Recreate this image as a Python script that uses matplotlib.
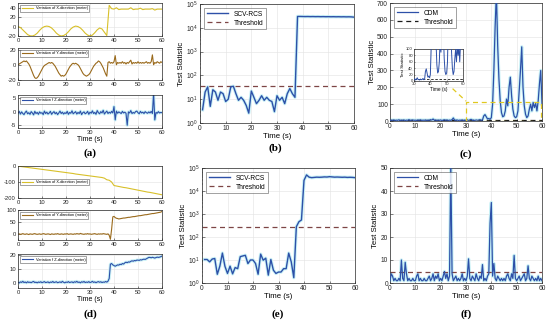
import numpy as np
import matplotlib

matplotlib.use("Agg")
import matplotlib.pyplot as plt
from matplotlib.patches import Rectangle

plt.rcParams.update({"font.family": ["Liberation Sans", "DejaVu Sans"],
                     "axes.linewidth": 0.5, "mathtext.default": "regular",
                     "axes.unicode_minus": False})

W, H = 550, 322

# ---------------- data ----------------
# (a) attack on a sinusoidal path, 1 s / 0.5 s samples
a_x = [0, -2, -7, -12, -17, -19.5, -20, -18, -14, -8,
       -3, 0, 1, 0, -3, -8, -14, -18, -20, -19,
       -16, -11, -5, -1, 1, 0, -3, -8, -14, -18,
       -20, -18, -13, -7, -3, -5, -12, -19, 45, 38,
       37, 40, 36, 37, 37, 37, 37, 40, 36, 37,
       37, 39, 36, 37, 37, 37, 38, 35, 37, 37, 37]
a_y = [0, 1, 2, 3, 4, 5, 4, 5, 3, 1,
       -2, -6, -10, -14, -17, -18, -17, -15, -12, -9,
       -6, -3, -1, 0, 1, 2, 3, 2, 3, 2,
       0, -2, -5, -8, -11, -13, -15, -14, -15, -14,
       -12, -9, -6, -3, -1, 1, 2, 1, 2, 1,
       0, -2, -5, -8, -11, -13, -14, -15, -14, -13,
       -11, -8, -5, -2, 0, 2, 3, 5, 4, 2,
       -1, -4, -8, -12, -15, 3, 4, 2, 3, 2,
       4, 12, 0, 3, 2, 3, 2, 4, 2, 3,
       1, 3, 2, 4, 6, 1, 3, 2, 3, 2,
       4, 2, 3, 2, 3, 2, 3, 4, 2, 3,
       2, 4, 13, 0, 3, 2, 4, 3, 2, 4, 3]
a_z = [-0.5, 0.2, -0.8, 0.0, -0.6, -1.0, -0.2, 0.3, -0.7, -0.3,
       -0.9, 0.1, -0.4, -1.1, 0.2, -0.6, -0.2, -0.9, 0.0, -0.5,
       -0.3, -1.0, 0.3, -0.6, -0.1, -0.8, -0.4, 0.2, -0.9, -0.3,
       0.1, -0.7, -0.2, -1.0, -0.4, 0.3, -0.6, -0.1, -0.8, -0.3,
       -0.6, 0.2, -0.9, -0.2, -0.5, 0.4, -0.7, -0.3, 0.1, -0.8,
       -0.2, -0.6, 0.3, -1.0, -0.3, 0.0, -0.7, -0.4, 0.2, -0.9,
       -0.1, -0.5, 0.4, -0.6, -0.2, -0.9, 0.5, -0.3, -0.7, 0.1,
       -0.4, 0.6, -0.8, -0.2, 0.3, -0.6, -0.1, -0.5, 0.2, -0.4,
       2.0, -3.0, 0.3, -0.5, 0.0, -0.3, -0.6, 0.2, -0.4, -0.1,
       -0.5, -5.0, 0.0, -0.4, 0.5, -0.6, -0.2, -0.5, 0.1, 0.3,
       -0.3, -0.7, 0.2, -0.4, -0.1, -0.6, 0.1, -0.3, -0.5, 0.0,
       -0.4, 0.2, -0.6, 7.0, -3.0, -0.2, -0.5, 0.1, -0.4, -0.2, -0.3]

# (b) SCV-RCS statistic, t = 1..60 s
b_stat = [3.6, 20, 33, 5, 25, 20, 9, 20, 17, 8,
          10, 33, 35, 17, 9, 12, 9, 5.5, 2.6, 22,
          12, 6.5, 9, 14, 9, 12, 9, 8, 3, 14,
          9, 12, 6.5, 17, 28, 17, 12, 30000, 30000, 29800,
          29600, 29800, 29500, 29700, 29400, 29600, 29300, 29500, 29200, 29400,
          29100, 29300, 29000, 29200, 28900, 29100, 28800, 29000, 28700, 28000]
b_thr = 36

# (c) CDM statistic, 0.5 s samples
c_stat = [3, 5, 4, 6, 3, 5, 4, 7, 3, 5,
          4, 6, 3, 5, 4, 8, 3, 5, 6, 4,
          5, 3, 6, 4, 7, 3, 5, 4, 6, 3,
          5, 4, 8, 5, 12, 4, 6, 3, 5, 4,
          6, 3, 5, 7, 4, 6, 3, 5, 4, 8,
          18, 5, 4, 6, 3, 5, 4, 6, 3, 5,
          4, 7, 3, 6, 10, 4, 5, 3, 6, 4,
          5, 8, 4, 6, 30, 38, 25, 12, 15, 10,
          20, 100, 300, 560, 760, 450, 250, 120, 50, 25,
          30, 60, 130, 90, 200, 260, 150, 70, 30, 20,
          25, 60, 180, 300, 440, 200, 90, 40, 20, 30,
          70, 100, 60, 110, 80, 105, 60, 120, 220, 300, 100]
c_thr = 5

# (d) attack on a linear path
d_x = [-1, -3, -5, -7, -9, -11, -13, -15, -17, -19,
       -21, -23, -25, -27, -29, -31, -33, -35, -37, -39,
       -41, -43, -45, -47, -50, -52, -54, -56, -58, -60,
       -62, -64, -66, -68, -70, -72, -76, -86, -89, -100,
       -122, -125, -128, -131, -134, -136, -139, -142, -145, -148,
       -151, -154, -157, -160, -163, -165, -168, -171, -174, -177, -180]
d_y = [0, 1, -1, 0, 2, 0, -1, 1, 0, -2,
       1, 0, -1, 1, 2, 0, -1, 0, 1, -1,
       0, 2, 1, -1, 0, 1, 0, -2, 1, 0,
       -1, 1, 0, 2, 0, -1, 1, 0, -1, 1,
       0, 2, -1, 0, 1, 0, -1, 1, 0, 2,
       1, 0, 3, 1, 0, -1, 1, 0, 2, 0,
       1, -1, 0, 1, 2, 0, -1, 1, 0, 1,
       0, 2, 1, 0, -1, 1, -5, -22, 20, 73,
       75, 70, 67, 66, 64, 65, 66, 67, 68, 68,
       69, 70, 71, 71, 72, 73, 74, 74, 75, 76,
       77, 78, 78, 79, 80, 81, 82, 82, 83, 84,
       85, 86, 87, 87, 88, 89, 90, 91, 92, 93, 96]
d_z = [0.2, -0.3, 0.5, 0.1, 0.9, 0.0, 0.4, -0.2, 0.6, 0.1,
       0.3, -0.1, 0.5, 0.8, 0.0, 0.3, -0.2, 0.4, 0.1, 0.6,
       -0.1, 0.3, 0.7, 0.0, 0.2, 0.5, -0.2, 0.4, 0.1, 0.8,
       0.0, 0.3, 0.6, -0.1, 0.2, 0.5, 0.0, 0.9, 0.2, -0.2,
       0.4, 0.1, 0.7, 0.0, 0.3, 0.5, -0.1, 0.6, 0.2, 0.9,
       0.1, 0.4, -0.2, 0.6, 0.2, 0.8, 0.0, 0.4, 0.1, 0.7,
       0.0, 0.3, 0.9, 0.1, 0.5, -0.1, 0.4, 0.7, 0.2, 0.6,
       0.0, 0.4, 0.2, 0.8, 0.3, 1.0, 3.0, 13.5, 14.0, 13.0,
       12.5, 12.0, 12.5, 13.0, 12.8, 13.5, 13.2, 14.0, 13.6, 14.5,
       15.0, 14.6, 15.2, 15.0, 15.6, 16.0, 15.7, 16.2, 16.0, 16.5,
       16.5, 16.3, 16.8, 16.6, 17.0, 17.2, 17.0, 17.5, 18.0, 18.5,
       18.5, 18.2, 18.6, 18.3, 18.0, 18.4, 18.7, 18.5, 18.7, 19.0, 19.5]

# (e) SCV-RCS statistic, t = 1..60 s
e_stat = [10.5, 10.5, 8.3, 11, 11.6, 2.4, 5.4, 20, 5.3, 2.6,
          5.4, 2.5, 4.7, 4.2, 14, 15, 16, 7, 10, 10,
          7, 2.4, 18, 9.8, 12, 2.2, 10.5, 3.6, 2.6, 3,
          3, 4.2, 4.2, 20, 8.3, 1.7, 280, 460, 550, 29000,
          50000, 40000, 38000, 39000, 40000, 39500, 40000, 41000, 40500, 42000,
          41000, 40000, 40500, 40000, 39500, 40000, 39000, 39500, 39000, 38000]
e_thr = 280

# (f) CDM statistic, 0.5 s samples
f_stat = [1, 4, 3, 1, 2, 1, 1, 2, 1, 10,
          2, 1, 9, 4, 1, 2, 1, 1, 2, 1,
          1, 3, 4, 1, 2, 1, 1, 2, 1, 1,
          2, 3, 1, 2, 4, 1, 3, 2, 4, 1,
          2, 1, 3, 5, 2, 4, 1, 3, 52, 4,
          1, 2, 3, 1, 2, 1, 2, 4, 1, 2,
          1, 3, 10.5, 2, 1, 3, 2, 1, 4, 2,
          1, 3, 2, 8, 1, 2, 1, 3, 4, 26,
          35, 3, 8.5, 2, 1, 3, 2, 1, 2, 1,
          2, 1, 3, 4, 2, 1, 4, 2, 12, 2,
          1, 2, 3, 1, 2, 3, 4, 1, 2, 7.5,
          2, 1, 3, 2, 1, 2, 1, 3, 1, 2, 1]
f_thr = 5

t1 = np.arange(61)
t_half = np.arange(121) * 0.5
t_scv = np.arange(1, 61)

BLUE = "#2d50a8"
HALO = "#c9f1f6"
YELLOW = "#d8c02a"
BROWN = "#9a6a1c"
THR = "#7d4545"


def rect(l, t, r, b):
    return [l / W, 1 - b / H, (r - l) / W, (b - t) / H]


def style(ax, fs):
    ax.tick_params(direction="in", length=1.8, width=0.4, labelsize=fs, pad=1.5,
                   colors="#262626")
    ax.tick_params(which="minor", direction="in", length=1.0, width=0.3)
    ax.grid(True, color="#e2e2e2", lw=0.4)
    ax.set_axisbelow(True)
    for s in ax.spines.values():
        s.set_linewidth(0.5)
        s.set_color("#262626")


def frame(leg):
    leg.get_frame().set_linewidth(0.4)
    leg.get_frame().set_edgecolor("#333333")


fig = plt.figure(figsize=(W / 100, H / 100), dpi=100)


# left column: three stacked position traces
def stack(rows, tops):
    axes = []
    for (t, y, col, lab, lim, ticks, loc), (top, bot) in zip(rows, tops):
        ax = fig.add_axes(rect(18, top, 162, bot))
        style(ax, 4.2)
        if col == BLUE:
            ax.plot(t, y, color=HALO, lw=2.2, zorder=1)
        ax.plot(t, y, color=col, lw=0.8, label=lab, zorder=2)
        ax.set_xlim(0, 60)
        ax.set_ylim(*lim)
        ax.set_yticks(ticks)
        ax.set_xticks(range(0, 61, 10))
        frame(ax.legend(loc=loc, fontsize=2.8, handlelength=3, frameon=True, fancybox=False,
                        borderpad=0.3, handletextpad=0.6, borderaxespad=0.6))
        axes.append(ax)
    return axes


ax_a = stack([(t1, a_x, YELLOW, "Variation of X-direction (meter)", (-20, 50), [-20, 0, 20, 40], "upper left"),
              (t_half, a_y, BROWN, "Variation of Y-direction (meter)", (-20, 22), [-20, 0, 20], "upper left"),
              (t_half, a_z, BLUE, "Variation f Z-direction (meter)", (-6, 6.3), [-5, 0, 5], "upper left")],
             [(3, 36), (48, 80), (95, 128)])
ax_a[2].set_xlabel("Time (s)", fontsize=5, labelpad=1)

ax_d = stack([(t1, d_x, YELLOW, "Variation of X-direction (meter)", (-200, 0), [-200, -100, 0], "center left"),
              (t_half, d_y, BROWN, "Variation of Y-direction (meter)", (-25, 102), [0, 50, 100], "upper left"),
              (t_half, d_z, BLUE, "Variation f Z-direction (meter)", (-4, 21), [0, 10, 20], "upper left")],
             [(166, 198), (210, 240), (254, 288)])
ax_d[2].set_xlabel("Time (s)", fontsize=5, labelpad=1)


# middle column: SCV-RCS on a log scale
def scv_panel(box, stat, thr):
    ax = fig.add_axes(rect(*box))
    style(ax, 4.8)
    ax.set_yscale("log")
    ax.plot(t_scv, stat, color=HALO, lw=2.4, zorder=1)
    ax.plot(t_scv, stat, color=BLUE, lw=1.0, label="SCV-RCS", zorder=3)
    ax.axhline(thr, color=THR, lw=0.9, ls=(0, (4, 3)), label="Threshold", zorder=2)
    ax.set_xlim(0, 60)
    ax.set_ylim(1, 1e5)
    ax.set_xticks(range(0, 61, 10))
    ax.set_yticks([1, 10, 100, 1e3, 1e4, 1e5])
    ax.set_yticklabels([r"$10^{%d}$" % k for k in range(6)])
    ax.set_xlabel("Time (s)", fontsize=5.6, labelpad=1)
    ax.set_ylabel("Test Statistic", fontsize=5.6, labelpad=1)
    frame(ax.legend(loc="upper left", fontsize=4.8, handlelength=3.2, fancybox=False,
                    borderpad=0.4, labelspacing=0.3, borderaxespad=0.6))
    return ax


ax_b = scv_panel((200, 4, 354, 123), b_stat, b_thr)
ax_e = scv_panel((202, 168, 355, 283), e_stat, e_thr)


# right column: CDM on a linear scale
def cdm_panel(box, stat, thr, ymax, thr_col):
    ax = fig.add_axes(rect(*box))
    style(ax, 4.8)
    ax.plot(t_half, stat, color=HALO, lw=2.4, zorder=1)
    ax.plot(t_half, stat, color=BLUE, lw=0.9, label="CDM", zorder=3)
    ax.axhline(thr, color=thr_col, lw=0.9, ls=(0, (4, 3)), label="Threshold", zorder=2)
    ax.set_xlim(0, 60)
    ax.set_ylim(0, ymax)
    ax.set_xticks(range(0, 61, 10))
    ax.set_xlabel("Time (s)", fontsize=5.6, labelpad=1)
    ax.set_ylabel("Test Statistic", fontsize=5.6, labelpad=1)
    frame(ax.legend(loc="upper left", fontsize=4.8, handlelength=3.2, fancybox=False,
                    borderpad=0.4, labelspacing=0.3, borderaxespad=0.6))
    return ax


ax_c = cdm_panel((390, 3, 542, 121), c_stat, c_thr, 700, "#1a1a1a")
ax_f = cdm_panel((390, 168, 542, 283), f_stat, f_thr, 50, THR)

# zoom box + inset of (c)
ax_c.add_patch(Rectangle((30, 0), 29.7, 115, fill=False, ec="#e0c820", lw=0.9,
                         ls=(0, (4, 3)), zorder=4))
ax_c.plot([24.7, 30], [192, 118], color="#e0c820", lw=0.9, ls=(0, (4, 3)), zorder=4)
ins = fig.add_axes(rect(414, 49, 463, 81))
style(ins, 3)
ins.tick_params(length=1, pad=0.8)
ins.plot(t_half, c_stat, color=BLUE, lw=0.7, zorder=3)
ins.axhline(c_thr, color="#1a1a1a", lw=0.6, ls=(0, (3, 2)))
ins.set_xlim(30, 60)
ins.set_ylim(0, 100)
ins.set_xticks([30, 40, 50, 60])
ins.set_yticks(range(0, 101, 20))
ins.set_xlabel("Time (s)", fontsize=3.4, labelpad=0.5)
ins.set_ylabel("Test Statistic", fontsize=3.2, labelpad=0.5)

# panel captions
for lab, x, y in [("(a)", 90, 153), ("(b)", 275, 148), ("(c)", 466, 154),
                  ("(d)", 90, 314), ("(e)", 278, 314), ("(f)", 466, 314)]:
    fig.text(x / W, 1 - y / H, lab, ha="center", va="center", fontsize=8,
             fontweight="bold", family=["Liberation Serif", "DejaVu Serif"])

fig.savefig("out.png", dpi=100, facecolor="white")
